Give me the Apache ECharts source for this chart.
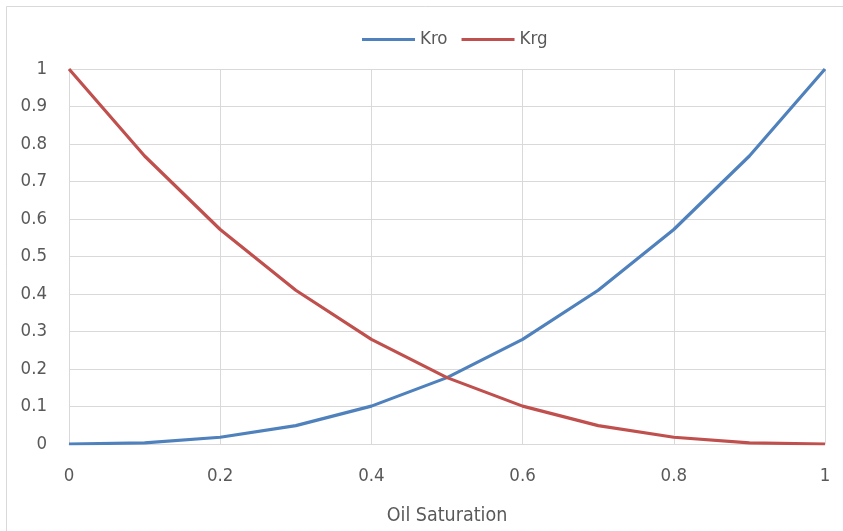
<!DOCTYPE html>
<html>
<head>
<meta charset="utf-8">
<script src="https://cdn.jsdelivr.net/npm/echarts@6/dist/echarts.min.js"></script>
<style>html,body{margin:0;padding:0;background:#fff}#c{width:843px;height:531px}</style>
</head>
<body>
<div id="c"></div>
<script>
var saturation = [0, 0.1, 0.2, 0.3, 0.4, 0.5, 0.6, 0.7, 0.8, 0.9, 1];
var kro = [0, 0.003, 0.018, 0.049, 0.101, 0.177, 0.279, 0.41, 0.572, 0.768, 1];
var krg = [1, 0.768, 0.572, 0.41, 0.279, 0.177, 0.101, 0.049, 0.018, 0.003, 0];
var seriesNames = ['Kro', 'Krg'];
var xTitle = 'Oil Saturation';

var fontFam = '"DejaVu Sans Condensed", "Open Sans", sans-serif';
function pairs(xs, ys){ return xs.map(function(x,i){ return [x, ys[i]]; }); }

var chart = echarts.init(document.getElementById('c'), null, {renderer:'canvas'});
chart.setOption({
  animation: false,
  backgroundColor: '#fff',
  graphic: [{
    type: 'rect', shape: {x: 6.5, y: 6.5, width: 850, height: 540},
    style: {fill: 'none', stroke: '#d9d9d9', lineWidth: 1}, silent: true
  }],
  legend: {
    top: 25, left: 357,
    itemWidth: 53, itemHeight: 3, itemGap: 14,
    icon: 'rect',
    textStyle: {fontFamily: fontFam, fontSize: 18.5, color: '#595959'},
    data: seriesNames
  },
  grid: {left: 69, right: 18, top: 69, bottom: 87, containLabel: false},
  xAxis: {
    type: 'value', min: 0, max: 1, interval: 0.2,
    name: xTitle, nameLocation: 'middle', nameGap: 62,
    nameTextStyle: {fontFamily: fontFam, fontSize: 19.5, color: '#595959'},
    axisLine: {show: true, lineStyle: {color: '#d9d9d9', width: 1}},
    axisTick: {show: false},
    axisLabel: {fontFamily: fontFam, fontSize: 18.5, color: '#595959', margin: 23},
    splitLine: {show: true, lineStyle: {color: '#d9d9d9', width: 1}}
  },
  yAxis: {
    type: 'value', min: 0, max: 1, interval: 0.1,
    axisLine: {show: false}, axisTick: {show: false},
    axisLabel: {fontFamily: fontFam, fontSize: 18.5, color: '#595959', margin: 22},
    splitLine: {show: true, lineStyle: {color: '#d9d9d9', width: 1}}
  },
  series: [
    {name: seriesNames[0], type: 'line', data: pairs(saturation, kro), showSymbol: false, symbol: 'none',
     lineStyle: {color: '#4f81bd', width: 3.2}, itemStyle: {color: '#4f81bd'}},
    {name: seriesNames[1], type: 'line', data: pairs(saturation, krg), showSymbol: false, symbol: 'none',
     lineStyle: {color: '#c0504d', width: 3.2}, itemStyle: {color: '#c0504d'}}
  ]
});
</script>
</body>
</html>
